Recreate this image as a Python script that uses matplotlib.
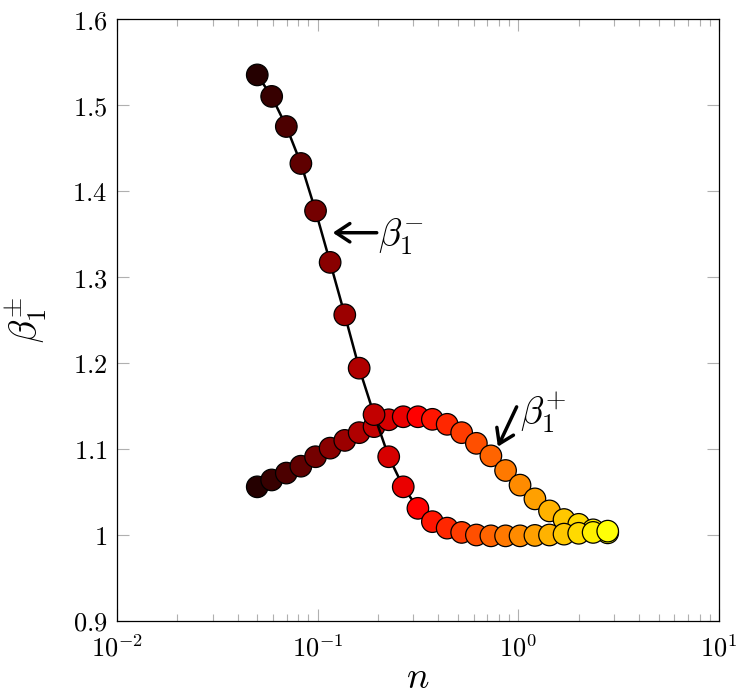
import matplotlib
matplotlib.use("Agg")
import matplotlib.pyplot as plt
import numpy as np
from matplotlib.colors import LogNorm

plt.rcParams['mathtext.fontset'] = 'cm'
plt.rcParams['font.family'] = ['DejaVu Serif']

# values
n = [0.05, 0.059, 0.0698, 0.0825, 0.0976, 0.1154, 0.1365, 0.161, 0.191, 0.226,
     0.267, 0.316, 0.373, 0.442, 0.522, 0.618, 0.730, 0.864, 1.02, 1.21,
     1.43, 1.69, 2.0, 2.36, 2.79]

beta_minus = [1.535, 1.510, 1.475, 1.432, 1.377, 1.317, 1.256, 1.194, 1.140, 1.091,
              1.056, 1.031, 1.0155, 1.008, 1.003, 1.000, 0.999, 0.999, 0.999, 0.9995,
              1.000, 1.001, 1.002, 1.003, 1.0045]

beta_plus = [1.056, 1.064, 1.072, 1.080, 1.091, 1.101, 1.110, 1.119, 1.126, 1.134,
             1.1375, 1.1375, 1.1345, 1.1287, 1.119, 1.1066, 1.092, 1.075, 1.058, 1.042,
             1.028, 1.018, 1.0124, 1.006, 1.0025]

yticks = [0.9, 1.0, 1.1, 1.2, 1.3, 1.4, 1.5, 1.6]
ytick_labels = ['$0.9$', '$1$', '$1.1$', '$1.2$', '$1.3$', '$1.4$', '$1.5$', '$1.6$']
xticks = [1e-2, 1e-1, 1e0, 1e1]
xtick_labels = ['$10^{-2}$', '$10^{-1}$', '$10^{0}$', '$10^{1}$']

cmap = plt.get_cmap('hot')
norm = LogNorm(vmin=0.05, vmax=2.79)
colors = [cmap(0.04 + 0.71 * norm(v)) for v in n]

fig = plt.figure(figsize=(7.48, 6.99), dpi=100)
ax = fig.add_axes([0.1564, 0.1116, 0.8048, 0.8612])

ax.plot(n, beta_plus, color='black', lw=1.8, zorder=2)
ax.scatter(n, beta_plus, s=15.5**2, c=colors, edgecolors='black', linewidths=0.9, zorder=3)
ax.plot(n, beta_minus, color='black', lw=1.8, zorder=4)
ax.scatter(n, beta_minus, s=15.5**2, c=colors, edgecolors='black', linewidths=0.9, zorder=5)

ax.set_xscale('log')
ax.set_xlim(1e-2, 1e1)
ax.set_ylim(0.9, 1.6)
ax.set_xticks(xticks)
ax.set_xticklabels(xtick_labels)
ax.set_yticks(yticks)
ax.set_yticklabels(ytick_labels)
ax.yaxis.set_minor_locator(matplotlib.ticker.NullLocator())

ax.tick_params(which='both', direction='in', top=True, right=True, color='#b0b0b0', width=0.8,
               labelsize=19)
ax.tick_params(which='major', length=8.5)
ax.tick_params(which='minor', length=5)
ax.tick_params(axis='y', pad=7)
ax.tick_params(axis='x', pad=10)
for sp in ax.spines.values():
    sp.set_linewidth(0.9)

ax.set_xlabel('$n$', fontsize=27, labelpad=-1)
ax.set_ylabel(r'$\beta_1^{\pm}$', fontsize=27, labelpad=17)

# annotation arrows and labels
arrow = dict(arrowstyle='->,head_length=0.5,head_width=0.33', lw=2.5, color='black',
             mutation_scale=20, shrinkA=0, shrinkB=0)
ax.annotate('', xy=(0.119, 1.3515), xytext=(0.197, 1.3515), arrowprops=arrow, zorder=6)
ax.text(0.199, 1.3465, r'$\beta_1^{-}$', fontsize=27, ha='left', va='center')
ax.annotate('', xy=(0.791, 1.1027), xytext=(0.981, 1.149), arrowprops=arrow, zorder=6)
ax.text(1.015, 1.143, r'$\beta_1^{+}$', fontsize=27, ha='left', va='center')

fig.savefig('out.png', dpi=100)
